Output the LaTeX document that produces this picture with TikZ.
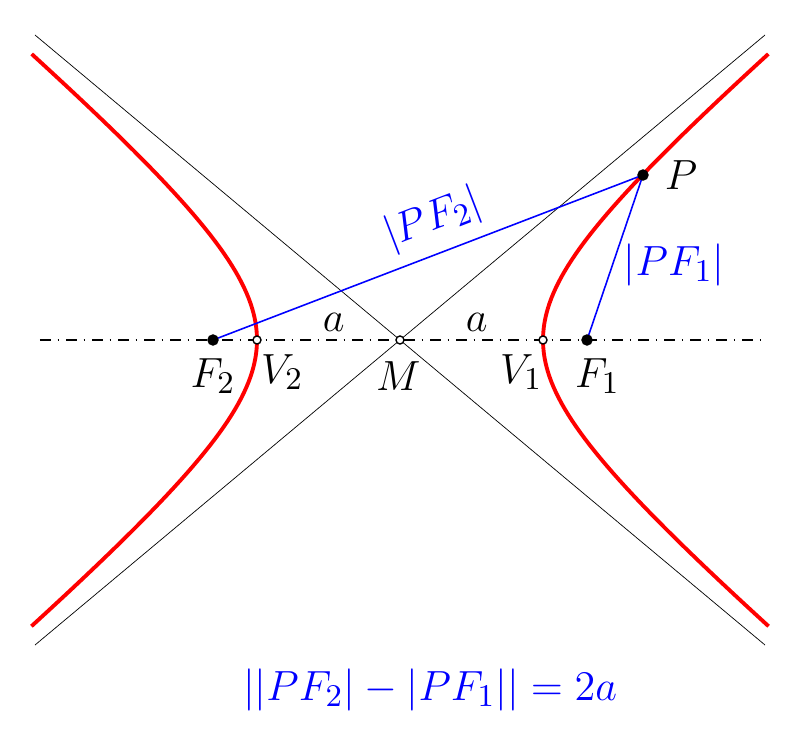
\documentclass[tikz,border=0pt]{standalone}
\usetikzlibrary{positioning}
\begin{document}
\begin{tikzpicture}[font=\fontsize{13}{15}\selectfont]

	\def\a{1.43}
	\def\b{1.205}
	\def\c{1.87}
	\def\tmax{1.6}
	\def\xmax{3.65}
	\def\ymax{3.05}
	\def\axmax{3.6}
	\def\dotsize{0.05}
	\def\opensize{0.04}

	% Colours
	\colorlet{curvecolor}{red}
	\colorlet{distcolor}{blue}

	% Styles
	\tikzstyle{axisline}=[thin, dash dot]
	\tikzstyle{asymptote}=[very thin]
	\tikzstyle{curve}=[curvecolor, line width=1.1pt]
	\tikzstyle{distline}=[distcolor, line width=0.45pt]
	\tikzstyle{ptlabel}=[inner sep=2pt]

	\useasboundingbox (-4,-3.9) rectangle (4,3.4);

	% Points
	\coordinate (M) at (0,0);
	\coordinate (V1) at (\a,0);
	\coordinate (V2) at (-\a,0);
	\coordinate (F1) at (\c,0);
	\coordinate (F2) at (-\c,0);
	\coordinate (P) at (2.43,1.65);
	\coordinate (AL) at (-\axmax,0);
	\coordinate (AR) at (\axmax,0);

	% Axis and asymptotes
	\draw[axisline] (AL) -- (AR);
	\draw[asymptote] (-\xmax,\ymax) -- (\xmax,-\ymax);
	\draw[asymptote] (-\xmax,-\ymax) -- (\xmax,\ymax);

	% Hyperbola
	\draw[curve] plot[domain=-\tmax:\tmax, samples=80] ({\a*cosh(\x)}, {\b*sinh(\x)});
	\draw[curve] plot[domain=-\tmax:\tmax, samples=80] ({-\a*cosh(\x)}, {\b*sinh(\x)});

	% Distances
	\draw[distline] (F2) -- node[pos=0.54, above, sloped, distcolor]{$|PF_2|$} (P);
	\draw[distline] (P) -- node[right, distcolor, xshift=-1pt, yshift=-2pt]{$|PF_1|$} (F1);

	% Dots
	\filldraw[fill=black] (F1) circle (\dotsize);
	\filldraw[fill=black] (F2) circle (\dotsize);
	\filldraw[fill=black] (P) circle (\dotsize);
	\filldraw[fill=white, draw=black, thin] (V1) circle (\opensize);
	\filldraw[fill=white, draw=black, thin] (V2) circle (\opensize);
	\filldraw[fill=white, draw=black, thin] (M) circle (\opensize);

	% Labels
	\node[ptlabel, below=3pt of F2] (LF2) {$F_2$};
	\node[ptlabel, below right=2pt and -1pt of V2] (LV2) {$V_2$};
	\node[ptlabel, below=4pt of M, xshift=-0.5pt] (LM) {$M$};
	\node[ptlabel, below left=2pt and -2pt of V1] (LV1) {$V_1$};
	\node[ptlabel, below=3pt of F1, xshift=3pt] (LF1) {$F_1$};
	\node[ptlabel, right=4pt of P] (LP) {$P$};
	\path (V2) -- node[above, xshift=1.5pt, yshift=-1pt] (La2) {$a$} (M);
	\path (M) -- node[above, xshift=1.5pt, yshift=-1pt] (La1) {$a$} (V1);

	% Formula
	\node[distcolor] (eq) at (0.3,-3.5) {$||PF_2|-|PF_1||=2a$};

\end{tikzpicture}
\end{document}
